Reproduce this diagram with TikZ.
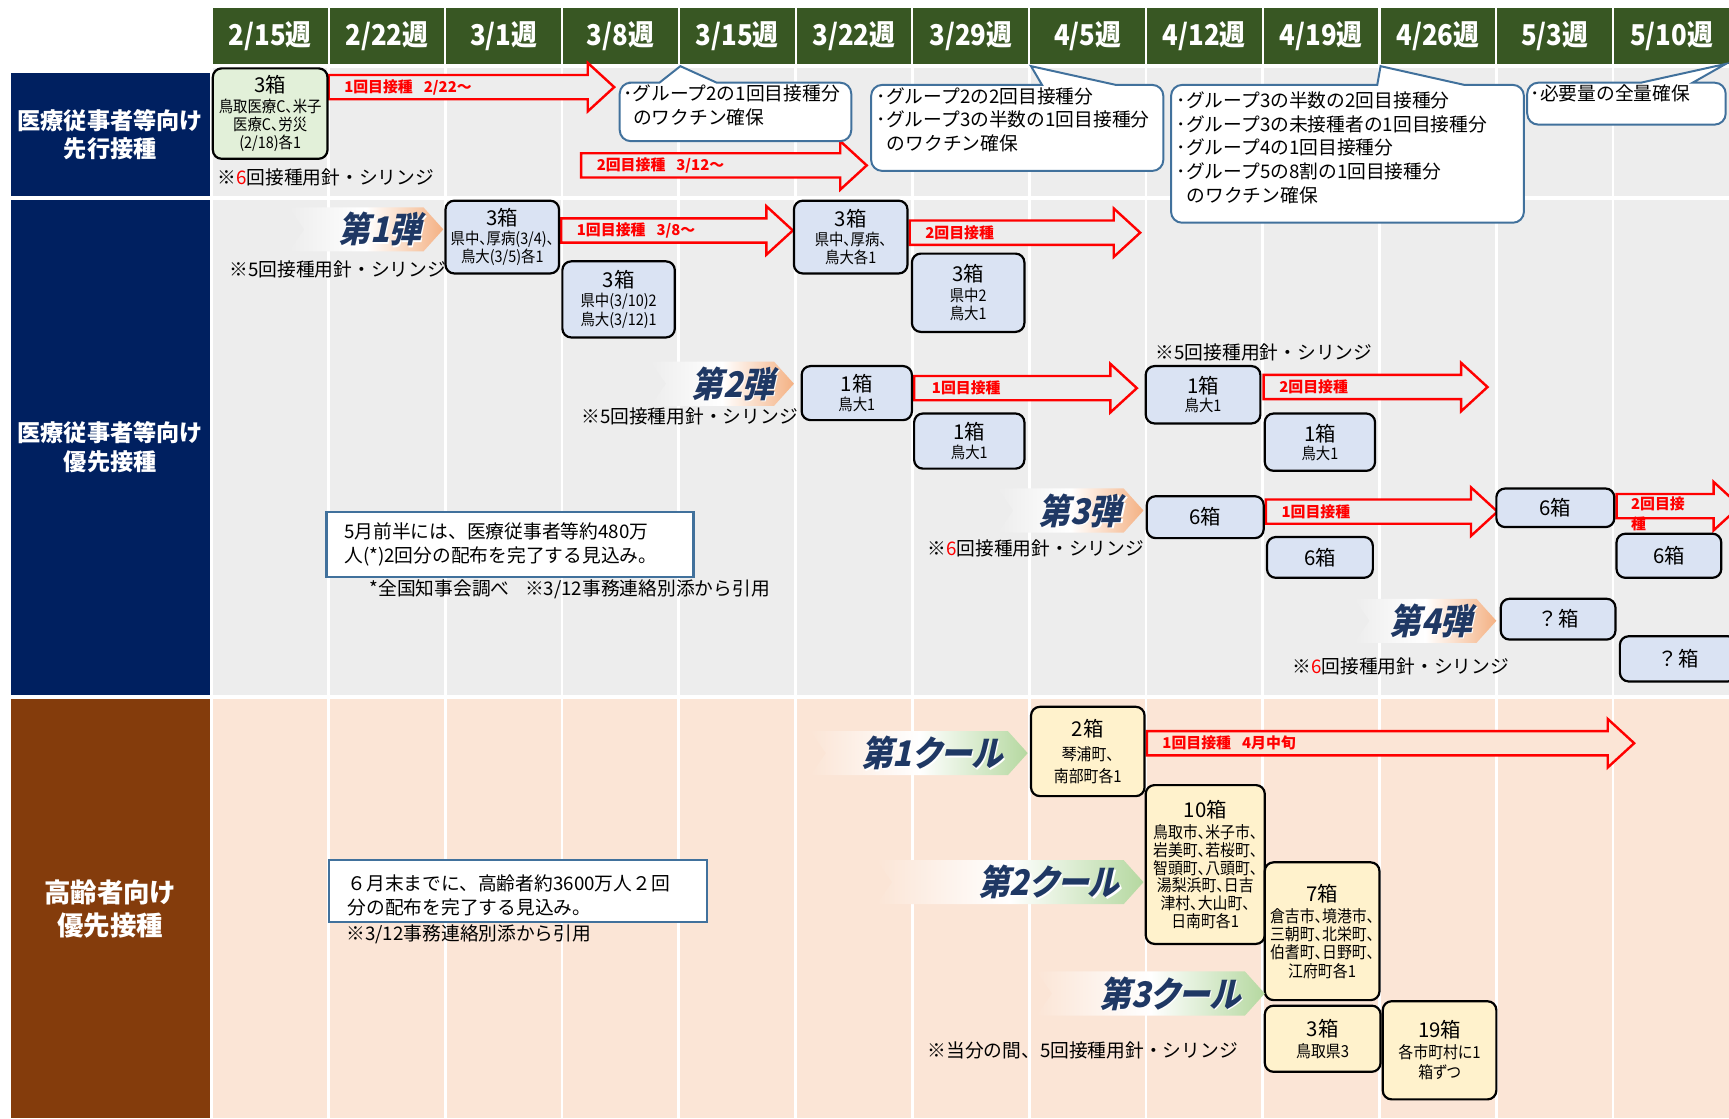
\documentclass[tikz,border=0pt]{standalone}
\usepackage{fontspec}
\setmainfont{Noto Sans CJK JP}
\newfontfamily\cnd[FakeStretch=0.9, RawFeature=+palt]{Noto Sans CJK JP}
\usetikzlibrary{calc}
\definecolor{hdr}{RGB}{56,87,35}
\definecolor{navy}{RGB}{0,32,96}
\definecolor{brn}{RGB}{132,60,12}
\definecolor{gbg}{RGB}{237,237,237}
\definecolor{pbg}{RGB}{251,229,214}
\definecolor{gbox}{RGB}{226,240,217}
\definecolor{bbox}{RGB}{218,227,243}
\definecolor{ybox}{RGB}{255,242,204}
\definecolor{cbd}{RGB}{65,113,156}
\definecolor{btxt}{RGB}{31,56,100}
\definecolor{borg}{RGB}{244,177,131}
\definecolor{bgrn}{RGB}{181,216,160}
\newcommand\bigt{\normalfont\fontsize{18.5}{20}\selectfont}
\newcommand\vbArrow[4]{%
  \draw[rarrow, fill=#4] (#1,#3-11) -- (#2-24,#3-11) -- (#2-24,#3-22) -- (#2,#3) -- (#2-24,#3+22) -- (#2-24,#3+11) -- (#1,#3+11) -- cycle;}
\newcommand\vbBanner[5]{% x0, x1(tip), ycenter, left colour, right colour
  \shade[left color=#4, right color=#5, middle color=white] (#1,#3-20) -- (#2-18,#3-20) -- (#2,#3) -- (#2-18,#3+20) -- (#1,#3+20) -- (#1+14,#3) -- cycle;}
\newcommand\vbBtext[4]{% name, x(east), y, text
  \begin{scope}[shift={(#2,#3)}]
    \node[btext, text=white, xslant=0.22, transform shape] at (1.2,1.2) {#4};
    \node[btext, xslant=0.22, transform shape] (#1) at (0,0) {#4};
  \end{scope}}
\begin{document}
\begin{tikzpicture}[x=1pt,y=-1pt,
  hdrcell/.style={fill=hdr, minimum width=104, minimum height=51, inner sep=0, text=white, font=\cnd\bfseries\fontsize{26}{28}\selectfont},
  lab/.style={minimum width=180, inner sep=0, text=white, align=center},
  bx/.style={draw=black, line width=2pt, rounded corners=8pt, align=center, inner sep=0pt, font=\cnd\fontsize{14.5}{16.5}\selectfont},
  note/.style={anchor=west, inner sep=0, font=\fontsize{17}{21}\selectfont},
  ctext/.style={anchor=north west, align=left, inner sep=0, font=\fontsize{17}{21.5}\selectfont},
  callout/.style={draw=cbd, line width=1.8pt, fill=white},
  nbox/.style={draw=cbd, line width=2pt, fill=white},
  rarrow/.style={draw=red, line width=2.2pt, line join=miter},
  alabel/.style={anchor=west, inner sep=0, text=red, font=\bfseries\fontsize{13.5}{17}\selectfont},
  btext/.style={text=btxt, font=\cnd\bfseries\fontsize{32}{34}\selectfont, inner sep=0, anchor=east}
]
\path[use as bounding box, fill=white] (0,0) rectangle (1568,1014);
% row backgrounds
\fill[gbg] (193,62) rectangle (1568,178);
\fill[gbg] (193,181) rectangle (1568,630);
\fill[pbg] (193,634) rectangle (1568,1014);
\foreach \i in {1,...,12} \draw[white, line width=2.5pt] ({192+105.9*\i},62) -- ({192+105.9*\i},1014);
% header
\foreach \t [count=\i from 0] in {2/15,2/22,3/1,3/8,3/15,3/22,3/29,4/5,4/12,4/19,4/26,5/3,5/10}
  \node[hdrcell] (h\i) at ({193+105.9*\i+52},32.5) {\t 週};
% left labels
\node[lab, fill=navy, minimum height=112, font=\bfseries\fontsize{21}{26}\selectfont] (l1) at (100,122) {医療従事者等向け\\先行接種};
\node[lab, fill=navy, minimum height=449, font=\bfseries\fontsize{21}{26}\selectfont] (l2) at (100,405.5) {医療従事者等向け\\優先接種};
\node[lab, fill=brn, minimum height=380, font=\bfseries\fontsize{24}{30}\selectfont] (l3) at (100,824) {高齢者向け\\優先接種};

% ---- row 1
\vbArrow{298}{557}{79}{gbg}
\node[alabel] (a1) at (312,79) {1回目接種\hspace{10pt}2/22～};
\vbArrow{527}{786}{150}{gbg}
\node[alabel] (a2) at (541,150) {2回目接種\hspace{10pt}3/12～};
\node[bx, fill=gbox, minimum width=104, minimum height=82] (g1) at (245,103) {{\bigt 3箱}\\[1pt]鳥取医療C、米子\\医療C、労災\\(2/18)各1};
\node[note] (n1) at (197,161) {※{\color{red}6}回接種用針・シリンジ};
% callouts
\draw[callout] (598,75) -- (617,60) -- (650,75) -- (680,75) [rounded corners=10pt] -- (772,75) -- (772,128) -- (562,128) -- (562,75) -- (580,75) [sharp corners] -- cycle;
\node[ctext] (c1) at (565,77) {･グループ2の1回目接種分\\\hspace{9pt}のワクチン確保};
\draw[callout] (945,77) -- (935,60) -- (1012,77) -- (1030,77) [rounded corners=10pt] -- (1055,77) -- (1055,155) -- (790,155) -- (790,77) -- (900,77) [sharp corners] -- cycle;
\node[ctext] (c2) at (795,79) {･グループ2の2回目接種分\\･グループ3の半数の1回目接種分\\\hspace{9pt}のワクチン確保};
\draw[callout] (1249,77) -- (1252,60) -- (1328,77) -- (1340,77) [rounded corners=10pt] -- (1382,77) -- (1382,202) -- (1062,202) -- (1062,77) -- (1200,77) [sharp corners] -- cycle;
\node[ctext] (c3) at (1067,83) {･グループ3の半数の2回目接種分\\･グループ3の未接種者の1回目接種分\\･グループ4の1回目接種分\\･グループ5の8割の1回目接種分\\\hspace{9pt}のワクチン確保};
\draw[callout] (1488,75) -- (1565,58) -- (1535,75) -- (1545,75) [rounded corners=10pt] -- (1565,75) -- (1565,113) -- (1385,113) -- (1385,75) -- (1450,75) [sharp corners] -- cycle;
\node[ctext] (c4) at (1388,77) {･必要量の全量確保};

% ---- row 2
\vbBanner{262}{402}{208}{gbg}{borg}
\vbBtext{w1}{385}{208}{第1弾}
\node[note] (n2) at (208,244) {※5回接種用針・シリンジ};
\vbArrow{509}{719}{209}{gbg}
\node[alabel] (a3) at (523,209) {1回目接種\hspace{10pt}3/8～};
\node[bx, fill=bbox, minimum width=103, minimum height=66] (b1) at (455.5,215) {{\bigt 3箱}\\[1pt]県中、厚病(3/4)、\\鳥大(3/5)各1};
\node[bx, fill=bbox, minimum width=102, minimum height=69] (b2) at (561,271.5) {{\bigt 3箱}\\[1pt]県中(3/10)2\\鳥大(3/12)1};
\vbArrow{825}{1034}{211}{gbg}
\node[alabel] (a4) at (839,211) {2回目接種};
\node[bx, fill=bbox, minimum width=103, minimum height=66] (b3) at (771.5,215) {{\bigt 3箱}\\[1pt]県中、厚病、\\鳥大各1};
\node[bx, fill=bbox, minimum width=102, minimum height=71] (b4) at (878,265.5) {{\bigt 3箱}\\[1pt]県中2\\鳥大1};

\vbBanner{590}{720}{348}{gbg}{borg}
\vbBtext{w2}{705}{348}{第2弾}
\node[note] (n3) at (527,378) {※5回接種用針・シリンジ};
\vbArrow{829}{1031}{352}{gbg}
\node[alabel] (a5) at (845,352) {1回目接種};
\node[bx, fill=bbox, minimum width=100, minimum height=49] (b5) at (777,356.5) {{\bigt 1箱}\\鳥大1};
\node[bx, fill=bbox, minimum width=100, minimum height=50] (b6) at (879,400) {{\bigt 1箱}\\鳥大1};
\node[note] (n4) at (1048,320) {※5回接種用針・シリンジ};
\vbArrow{1146}{1349}{351}{gbg}
\node[alabel] (a6) at (1160,351) {2回目接種};
\node[bx, fill=bbox, minimum width=104, minimum height=52] (b7) at (1091,358) {{\bigt 1箱}\\鳥大1};
\node[bx, fill=bbox, minimum width=100, minimum height=52] (b8) at (1197,401) {{\bigt 1箱}\\鳥大1};

\vbBanner{905}{1037}{463}{gbg}{borg}
\vbBtext{w3}{1020}{463}{第3弾}
\node[note] (n5) at (841,497) {※{\color{red}6}回接種用針・シリンジ};
\vbArrow{1148}{1358}{464}{gbg}
\node[alabel] (a7) at (1162,464) {1回目接種};
\node[bx, fill=bbox, minimum width=106, minimum height=38] (b9) at (1093,469) {{\bigt 6箱}};
\node[bx, fill=bbox, minimum width=96, minimum height=37] (b10) at (1197,505.5) {{\bigt 6箱}};
\vbArrow{1466}{1578}{459}{gbg}
\node[alabel, anchor=north west, align=left, font=\bfseries\fontsize{13.5}{18}\selectfont] (a8) at (1479,450) {2回目接\\種};
\node[bx, fill=bbox, minimum width=107, minimum height=35] (b11) at (1410.5,460.5) {{\bigt 6箱}};
\node[bx, fill=bbox, minimum width=95, minimum height=40] (b12) at (1513.5,504) {{\bigt 6箱}};

\vbBanner{1228}{1357}{563}{gbg}{borg}
\vbBtext{w4}{1338}{563}{第4弾}
\node[note] (n6) at (1172,604) {※{\color{red}6}回接種用針・シリンジ};
\node[bx, fill=bbox, minimum width=104, minimum height=37] (b13) at (1413,561.5) {{\bigt ？箱}};
\node[bx, fill=bbox, minimum width=106, minimum height=41] (b14) at (1522,597.5) {{\bigt ？箱}};

\draw[nbox] (296,464) rectangle (629,523);
\node[anchor=west, align=left, inner sep=0, font=\fontsize{17}{22}\selectfont] (t1) at (312,494) {5月前半には、医療従事者等約480万\\人(*)2回分の配布を完了する見込み。};
\node[note] (n8) at (335,534) {*全国知事会調べ\hspace{14pt}※3/12事務連絡別添から引用};

% ---- row 3
\vbBanner{735}{932}{683}{pbg}{bgrn}
\vbBtext{k1}{912}{683}{第1クール}
\vbArrow{1040}{1482}{674}{pbg}
\node[alabel] (a9) at (1054,674) {1回目接種\hspace{10pt}4月中旬};
\node[bx, fill=ybox, minimum width=103, minimum height=81, font=\cnd\fontsize{15}{19.5}\selectfont] (y1) at (986.5,681.5) {{\bigt 2箱}\\[2pt]琴浦町、\\南部町各1};
\vbBanner{795}{1037}{800}{pbg}{bgrn}
\vbBtext{k2}{1018}{800}{第2クール}
\node[bx, fill=ybox, minimum width=108, minimum height=144, font=\cnd\fontsize{15}{16.2}\selectfont] (y2) at (1093,784) {{\bigt 10箱}\\[3pt]鳥取市、米子市、\\岩美町、若桜町、\\智頭町、八頭町、\\湯梨浜町、日吉\\津村、大山町、\\日南町各1};
\node[bx, fill=ybox, minimum width=104, minimum height=125, font=\cnd\fontsize{15}{16.5}\selectfont] (y3) at (1199,844.5) {{\bigt 7箱}\\[3pt]倉吉市、境港市、\\三朝町、北栄町、\\伯耆町、日野町、\\江府町各1};
\vbBanner{940}{1147}{901}{pbg}{bgrn}
\vbBtext{k3}{1128}{901}{第3クール}
\node[bx, fill=ybox, minimum width=105, minimum height=60, font=\cnd\fontsize{15}{19}\selectfont] (y4) at (1199.5,942) {{\bigt 3箱}\\鳥取県3};
\node[bx, fill=ybox, minimum width=103, minimum height=89, font=\cnd\fontsize{15}{18}\selectfont] (y5) at (1305.5,952.5) {{\bigt 19箱}\\[1pt]各市町村に1\\箱ずつ};
\node[note] (n7) at (841,953) {※当分の間、5回接種用針・シリンジ};

\draw[nbox] (298,780) rectangle (641,836);
\node[anchor=west, align=left, inner sep=0, font=\fontsize{17}{22}\selectfont] (t2) at (315,812) {６月末までに、高齢者約3600万人２回\\分の配布を完了する見込み。};
\node[note] (n9) at (314,847) {※3/12事務連絡別添から引用};
\end{tikzpicture}
\end{document}
